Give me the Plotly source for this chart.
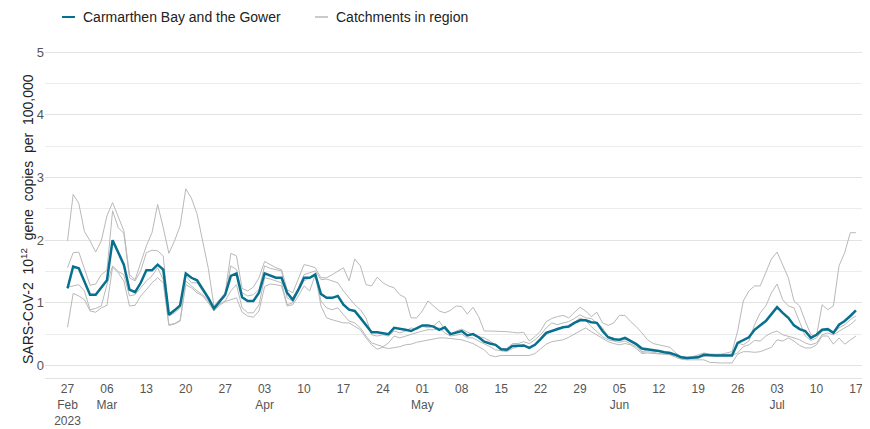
import pandas as pd
import plotly.graph_objects as go

start_date = "2023-02-27"
n_days = 141

region_name = "Carmarthen Bay and the Gower"
catchment_name = "Catchments in region"
y_title = "SARS-CoV-2  10<sup>12</sup>  gene  copies  per  100,000"

region_values = [
    1.23, 1.58, 1.55, 1.35, 1.13, 1.13, 1.25, 1.36, 2.00, 1.81,
    1.61, 1.21, 1.17, 1.32, 1.52, 1.52, 1.61, 1.53, 0.81, 0.88,
    0.96, 1.47, 1.40, 1.36, 1.23, 1.08, 0.91, 1.02, 1.13, 1.43,
    1.47, 1.09, 1.03, 1.03, 1.16, 1.47, 1.44, 1.40, 1.40, 1.16,
    1.05, 1.21, 1.40, 1.40, 1.45, 1.14, 1.08, 1.08, 1.11, 0.97,
    0.89, 0.87, 0.76, 0.64, 0.53, 0.53, 0.51, 0.50, 0.60, 0.59,
    0.57, 0.55, 0.59, 0.64, 0.64, 0.62, 0.57, 0.61, 0.50, 0.53,
    0.55, 0.48, 0.50, 0.45, 0.38, 0.35, 0.33, 0.26, 0.25, 0.31,
    0.31, 0.32, 0.28, 0.33, 0.42, 0.52, 0.55, 0.58, 0.61, 0.62,
    0.68, 0.72, 0.72, 0.69, 0.68, 0.55, 0.45, 0.42, 0.41, 0.44,
    0.39, 0.34, 0.27, 0.26, 0.25, 0.23, 0.21, 0.20, 0.17, 0.13,
    0.12, 0.12, 0.13, 0.17, 0.16, 0.16, 0.16, 0.16, 0.16, 0.36,
    0.40, 0.45, 0.57, 0.64, 0.71, 0.82, 0.93, 0.84, 0.76, 0.64,
    0.58, 0.55, 0.44, 0.49, 0.57, 0.58, 0.52, 0.65, 0.71, 0.79,
    0.88,
]

catchment_a = [
    1.99, 2.73, 2.59, 2.14, 1.99, 1.81, 1.99, 2.39, 2.60, 2.36,
    2.15, 1.45, 1.37, 1.64, 1.91, 2.12, 2.57, 2.20, 1.79, 1.99,
    2.23, 2.82, 2.67, 2.42, 1.99, 1.55, 0.95, 1.05, 1.16, 1.79,
    1.75, 1.23, 1.19, 1.25, 1.40, 1.66, 1.61, 1.56, 1.53, 1.21,
    1.16, 1.40, 1.61, 1.59, 1.56, 1.40, 1.40, 1.45, 1.51, 1.56,
    1.35, 1.70, 1.59, 1.29, 1.27, 1.41, 1.32, 1.27, 1.24, 1.13,
    1.08, 0.76, 0.76, 0.87, 1.03, 0.95, 0.87, 0.84, 0.88, 0.95,
    0.94, 0.82, 0.93, 0.78, 0.55, 0.55, 0.55, 0.55, 0.54, 0.53,
    0.52, 0.53, 0.39, 0.46, 0.55, 0.70, 0.75, 0.78, 0.80, 0.76,
    0.84, 0.93, 0.87, 0.78, 0.85, 0.68, 0.64, 0.68, 0.80, 0.80,
    0.70, 0.62, 0.52, 0.41, 0.35, 0.33, 0.30, 0.29, 0.20, 0.14,
    0.13, 0.14, 0.17, 0.20, 0.18, 0.18, 0.18, 0.20, 0.22, 0.55,
    1.03, 1.19, 1.27, 1.27, 1.48, 1.70, 1.81, 1.59, 1.40, 1.03,
    0.95, 0.71, 0.49, 0.47, 0.97, 0.89, 0.95, 1.59, 1.80, 2.12,
    2.12,
]

catchment_b = [
    1.56, 1.80, 1.81, 1.53, 1.28, 1.30, 1.45, 1.52, 2.47, 2.20,
    2.11, 1.40, 1.35, 1.51, 1.80, 1.84, 1.83, 1.75, 0.79, 0.84,
    0.92, 1.43, 1.32, 1.32, 1.19, 1.05, 0.89, 1.00, 1.11, 1.59,
    1.53, 1.16, 1.11, 1.13, 1.21, 1.59, 1.55, 1.53, 1.51, 1.08,
    1.03, 1.24, 1.45, 1.48, 1.51, 1.37, 1.38, 1.35, 1.32, 1.19,
    1.08, 0.97, 0.89, 0.76, 0.49, 0.47, 0.49, 0.47, 0.55, 0.52,
    0.55, 0.60, 0.57, 0.63, 0.60, 0.63, 0.71, 0.57, 0.49, 0.55,
    0.58, 0.53, 0.49, 0.46, 0.44, 0.39, 0.33, 0.27, 0.27, 0.35,
    0.35, 0.38, 0.35, 0.41, 0.49, 0.60, 0.68, 0.65, 0.68, 0.70,
    0.75, 0.81, 0.76, 0.75, 0.68, 0.60, 0.46, 0.44, 0.39, 0.42,
    0.38, 0.33, 0.22, 0.25, 0.23, 0.22, 0.22, 0.21, 0.17, 0.12,
    0.11, 0.13, 0.15, 0.17, 0.17, 0.17, 0.17, 0.17, 0.18, 0.36,
    0.33, 0.39, 0.65, 0.84, 0.95, 1.16, 1.30, 1.05, 0.95, 0.92,
    0.71, 0.47, 0.40, 0.44, 0.55, 0.57, 0.52, 0.60, 0.65, 0.73,
    0.79,
]

catchment_c = [
    1.25, 1.27, 1.29, 1.19, 0.89, 0.91, 0.95, 1.29, 1.59, 1.50,
    1.45, 1.11, 1.13, 1.24, 1.35, 1.43, 1.56, 1.37, 0.65, 0.67,
    0.72, 1.35, 1.27, 1.19, 1.13, 1.03, 0.88, 0.98, 1.03, 1.19,
    1.29, 0.92, 0.84, 0.84, 0.97, 1.40, 1.38, 1.35, 1.32, 0.97,
    1.00, 1.19, 1.35, 1.40, 1.48, 1.03, 0.92, 0.89, 0.92, 0.81,
    0.71, 0.68, 0.60, 0.47, 0.36, 0.33, 0.30, 0.36, 0.47, 0.44,
    0.47, 0.49, 0.52, 0.55, 0.57, 0.57, 0.60, 0.52, 0.47, 0.49,
    0.50, 0.44, 0.44, 0.39, 0.35, 0.30, 0.25, 0.23, 0.22, 0.27,
    0.30, 0.33, 0.27, 0.33, 0.41, 0.49, 0.55, 0.60, 0.61, 0.65,
    0.68, 0.76, 0.72, 0.62, 0.54, 0.46, 0.41, 0.39, 0.37, 0.39,
    0.35, 0.30, 0.21, 0.22, 0.21, 0.19, 0.20, 0.18, 0.15, 0.11,
    0.10, 0.11, 0.12, 0.15, 0.15, 0.15, 0.15, 0.15, 0.16, 0.20,
    0.30, 0.33, 0.40, 0.39, 0.47, 0.52, 0.55, 0.49, 0.47, 0.44,
    0.41, 0.36, 0.33, 0.36, 0.49, 0.52, 0.49, 0.55, 0.60, 0.65,
    0.73,
]

catchment_d = [
    0.61, 1.15, 1.11, 1.05, 0.87, 0.85, 0.92, 0.96, 1.57, 1.48,
    1.35, 0.95, 0.96, 1.11, 1.21, 1.32, 1.40, 1.32, 0.64, 0.66,
    0.71, 1.29, 1.24, 1.16, 1.11, 1.00, 0.87, 0.96, 1.02, 1.05,
    1.08, 0.85, 0.79, 0.77, 0.87, 1.26, 1.30, 1.29, 1.27, 0.95,
    0.97, 1.11, 1.27, 1.19, 1.45, 0.95, 0.76, 0.73, 0.71, 0.68,
    0.68, 0.63, 0.57, 0.44, 0.33, 0.26, 0.29, 0.27, 0.28, 0.30,
    0.33, 0.34, 0.37, 0.39, 0.41, 0.43, 0.44, 0.44, 0.43, 0.41,
    0.41, 0.38, 0.35, 0.30, 0.25, 0.16, 0.14, 0.16, 0.16, 0.16,
    0.16, 0.16, 0.16, 0.19, 0.27, 0.34, 0.38, 0.39, 0.41, 0.45,
    0.50, 0.55, 0.60, 0.54, 0.49, 0.44, 0.38, 0.35, 0.33, 0.35,
    0.33, 0.27, 0.19, 0.20, 0.19, 0.18, 0.18, 0.17, 0.13, 0.10,
    0.09, 0.09, 0.10, 0.09, 0.05, 0.04, 0.04, 0.04, 0.04, 0.18,
    0.22, 0.22, 0.21, 0.22, 0.25, 0.29, 0.41, 0.39, 0.44, 0.39,
    0.32, 0.28, 0.28, 0.33, 0.47, 0.47, 0.34, 0.44, 0.34, 0.41,
    0.47,
]

tick_dates = pd.date_range("2023-02-27", "2023-07-17", freq="7D")
tick_labels = [
    "27<br>Feb<br>2023", "06<br>Mar", "13", "20", "27", "03<br>Apr", "10",
    "17", "24", "01<br>May", "08", "15", "22", "29", "05<br>Jun", "12",
    "19", "26", "03<br>Jul", "10", "17",
]
y_ticks = [0, 1, 2, 3, 4, 5]

dates = pd.date_range(start_date, periods=n_days, freq="D")

TEAL = "#08708f"
GREY = "#b9b9b9"
FONT = "Liberation Sans, Arial, sans-serif"

fig = go.Figure()
for series in [catchment_a, catchment_b, catchment_c, catchment_d]:
    fig.add_trace(go.Scatter(
        x=dates, y=series, mode="lines",
        line=dict(color=GREY, width=1),
        showlegend=False, hoverinfo="skip",
    ))
fig.add_trace(go.Scatter(
    x=dates, y=region_values, mode="lines",
    line=dict(color=TEAL, width=2.5),
    showlegend=False, name=region_name,
))

# page offset: the html body has an 8px margin
PW = 825.0   # plot width in px
PH = 332.0   # plot height in px


def px_x(page_x):
    return (page_x - 45) / PW


def px_y(page_y):
    return (378 - page_y) / PH


legend_y = px_y(17)
fig.add_shape(type="line", xref="paper", yref="paper",
              x0=px_x(62), x1=px_x(75), y0=legend_y, y1=legend_y,
              line=dict(color=TEAL, width=2))
fig.add_annotation(xref="paper", yref="paper", x=px_x(81), y=legend_y,
                   text=region_name, showarrow=False, xanchor="left", yanchor="middle",
                   font=dict(family=FONT, size=14, color="#222222"))
fig.add_shape(type="line", xref="paper", yref="paper",
              x0=px_x(315), x1=px_x(328), y0=legend_y, y1=legend_y,
              line=dict(color=GREY, width=1.5))
fig.add_annotation(xref="paper", yref="paper", x=px_x(334), y=legend_y,
                   text=catchment_name, showarrow=False, xanchor="left", yanchor="middle",
                   font=dict(family=FONT, size=14, color="#222222"))
fig.add_annotation(xref="paper", yref="paper", x=px_x(27), y=px_y(219),
                   text=y_title, textangle=-90, showarrow=False,
                   xanchor="center", yanchor="middle",
                   font=dict(family=FONT, size=14, color="#222222"))

fig.update_layout(
    width=862, height=421,
    margin=dict(l=37, r=0, t=38, b=51),
    paper_bgcolor="white", plot_bgcolor="white",
    font=dict(family=FONT, size=13, color="#555555"),
    showlegend=False,
)
fig.update_xaxes(
    automargin=False,
    range=["2023-02-23", "2023-07-19 12:00"],
    tickvals=tick_dates, ticktext=tick_labels, tickangle=0,
    showgrid=False, showline=True, linecolor="#e3e3e3", linewidth=1,
    ticks="", ticklen=0,
    tickfont=dict(family=FONT, size=12, color="#555555"),
)
fig.update_yaxes(
    automargin=False,
    range=[-0.2, 5.1],
    tickvals=y_ticks, showgrid=True, gridcolor="#e3e3e3", gridwidth=1,
    minor=dict(dtick=0.5, showgrid=True, gridcolor="#ececec", gridwidth=1, tick0=0),
    zeroline=False, ticks="", tickfont=dict(size=13, color="#555555"),
)

fig.write_html("out.html")
